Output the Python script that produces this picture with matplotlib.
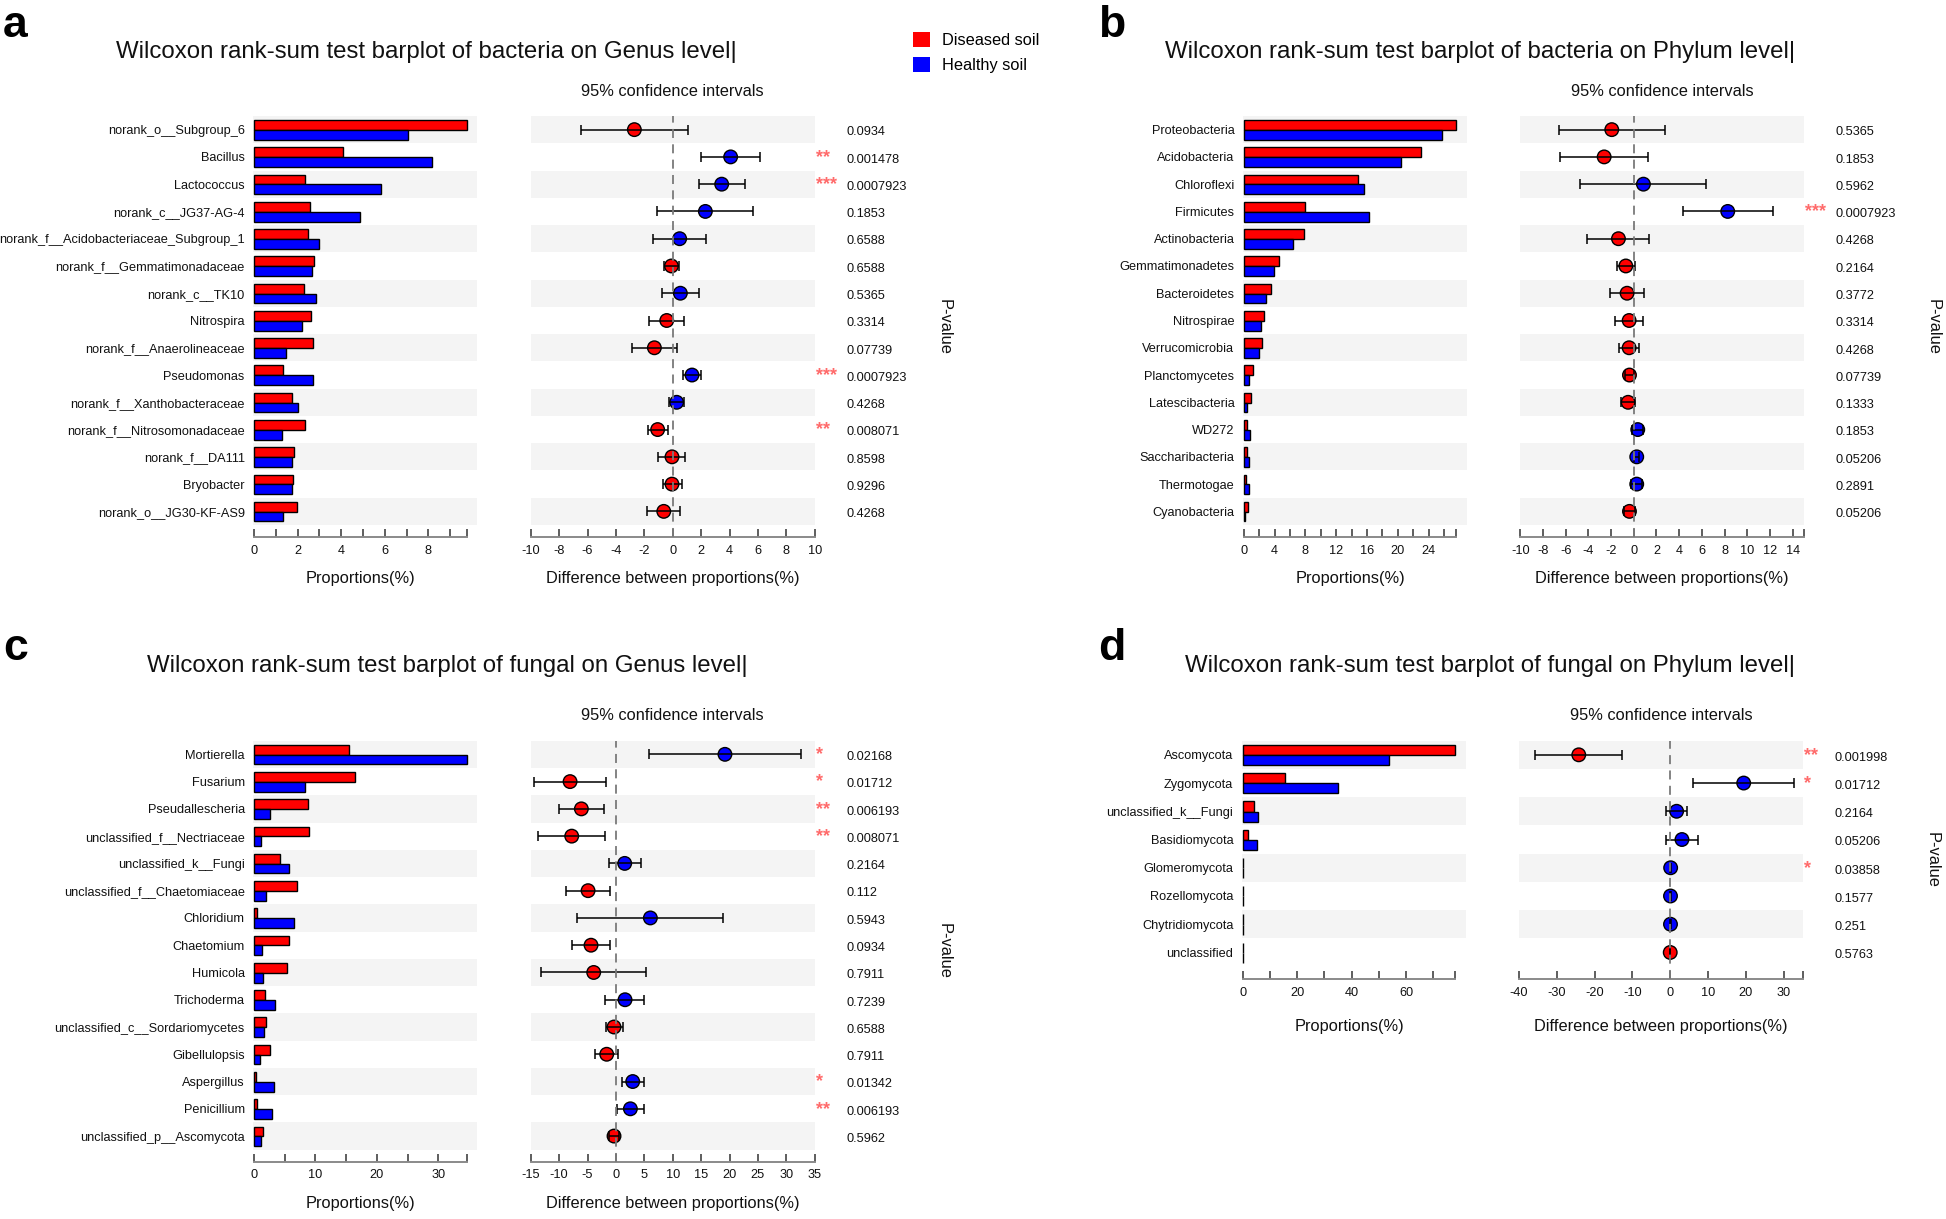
import matplotlib
matplotlib.use('Agg')
import matplotlib.pyplot as plt
import numpy as np
from matplotlib.patches import Patch

plt.rcParams['font.family'] = ['Liberation Sans', 'DejaVu Sans']
plt.rcParams['axes.unicode_minus'] = False

# ---------------- data ----------------
groups = ['Diseased soil', 'Healthy soil']
group_colors = ['#FF0000', '#0000FF']

# Panel a: bacteria, genus level
a_title = 'Wilcoxon rank-sum test barplot of bacteria on Genus level|'
a_taxa = ['norank_o__Subgroup_6', 'Bacillus', 'Lactococcus', 'norank_c__JG37-AG-4',
          'norank_f__Acidobacteriaceae_Subgroup_1', 'norank_f__Gemmatimonadaceae',
          'norank_c__TK10', 'Nitrospira', 'norank_f__Anaerolineaceae', 'Pseudomonas',
          'norank_f__Xanthobacteraceae', 'norank_f__Nitrosomonadaceae', 'norank_f__DA111',
          'Bryobacter', 'norank_o__JG30-KF-AS9']
a_diseased = [9.76, 4.10, 2.34, 2.57, 2.49, 2.75, 2.31, 2.60, 2.72, 1.35, 1.76, 2.34, 1.82, 1.77, 1.96]
a_healthy = [7.08, 8.18, 5.81, 4.86, 3.00, 2.65, 2.84, 2.20, 1.45, 2.69, 2.00, 1.28, 1.76, 1.74, 1.35]
a_diff = [-2.70, 4.08, 3.45, 2.30, 0.49, -0.09, 0.54, -0.42, -1.29, 1.36, 0.28, -1.06, -0.05, -0.05, -0.63]
a_low = [-6.46, 2.00, 1.88, -1.10, -1.38, -0.61, -0.77, -1.64, -2.84, 0.70, -0.23, -1.76, -1.06, -0.70, -1.81]
a_high = [1.06, 6.15, 5.07, 5.68, 2.37, 0.42, 1.85, 0.82, 0.28, 2.00, 0.77, -0.35, 0.89, 0.66, 0.54]
a_p = ['0.0934', '0.001478', '0.0007923', '0.1853', '0.6588', '0.6588', '0.5365', '0.3314',
       '0.07739', '0.0007923', '0.4268', '0.008071', '0.8598', '0.9296', '0.4268']

# Panel b: bacteria, phylum level
b_title = 'Wilcoxon rank-sum test barplot of bacteria on Phylum level|'
b_taxa = ['Proteobacteria', 'Acidobacteria', 'Chloroflexi', 'Firmicutes', 'Actinobacteria',
          'Gemmatimonadetes', 'Bacteroidetes', 'Nitrospirae', 'Verrucomicrobia', 'Planctomycetes',
          'Latescibacteria', 'WD272', 'Saccharibacteria', 'Thermotogae', 'Cyanobacteria']
b_diseased = [27.6, 22.96, 14.83, 7.96, 7.78, 4.58, 3.55, 2.59, 2.38, 1.17, 0.95, 0.39, 0.39, 0.35, 0.52]
b_healthy = [25.7, 20.37, 15.65, 16.26, 6.40, 3.94, 2.94, 2.20, 1.99, 0.74, 0.48, 0.78, 0.69, 0.65, 0.13]
b_diff = [-1.94, -2.61, 0.85, 8.28, -1.35, -0.70, -0.59, -0.41, -0.41, -0.38, -0.50, 0.35, 0.26, 0.26, -0.38]
b_low = [-6.61, -6.46, -4.70, 4.32, -4.08, -1.47, -2.12, -1.65, -1.26, -0.79, -1.12, -0.15, 0.05, -0.23, -0.85]
b_high = [2.73, 1.26, 6.40, 12.25, 1.35, 0.09, 0.91, 0.82, 0.44, 0.06, 0.12, 0.85, 0.48, 0.76, 0.09]
b_p = ['0.5365', '0.1853', '0.5962', '0.0007923', '0.4268', '0.2164', '0.3772', '0.3314',
       '0.4268', '0.07739', '0.1333', '0.1853', '0.05206', '0.2891', '0.05206']

# Panel c: fungi, genus level
c_title = 'Wilcoxon rank-sum test barplot of fungal on Genus level|'
c_taxa = ['Mortierella', 'Fusarium', 'Pseudallescheria', 'unclassified_f__Nectriaceae',
          'unclassified_k__Fungi', 'unclassified_f__Chaetomiaceae', 'Chloridium', 'Chaetomium',
          'Humicola', 'Trichoderma', 'unclassified_c__Sordariomycetes', 'Gibellulopsis',
          'Aspergillus', 'Penicillium', 'unclassified_p__Ascomycota']
c_diseased = [15.4, 16.4, 8.74, 9.00, 4.23, 6.95, 0.54, 5.64, 5.37, 1.84, 2.00, 2.66, 0.27, 0.49, 1.52]
c_healthy = [34.6, 8.30, 2.60, 1.19, 5.75, 1.95, 6.57, 1.30, 1.41, 3.42, 1.68, 0.98, 3.31, 2.98, 1.14]
c_diff = [19.2, -8.07, -6.08, -7.78, 1.55, -4.90, 6.07, -4.38, -3.91, 1.61, -0.33, -1.62, 2.96, 2.55, -0.33]
c_low = [5.77, -14.47, -10.07, -13.70, -1.27, -8.84, -6.79, -7.78, -13.12, -1.86, -1.80, -3.67, 1.08, 0.14, -1.27]
c_high = [32.66, -1.74, -2.15, -1.86, 4.37, -1.03, 18.80, -1.03, 5.25, 5.01, 1.20, 0.43, 4.89, 4.89, 0.61]
c_p = ['0.02168', '0.01712', '0.006193', '0.008071', '0.2164', '0.112', '0.5943', '0.0934',
       '0.7911', '0.7239', '0.6588', '0.7911', '0.01342', '0.006193', '0.5962']

# Panel d: fungi, phylum level
d_title = 'Wilcoxon rank-sum test barplot of fungal on Phylum level|'
d_taxa = ['Ascomycota', 'Zygomycota', 'unclassified_k__Fungi', 'Basidiomycota',
          'Glomeromycota', 'Rozellomycota', 'Chytridiomycota', 'unclassified']
d_diseased = [78.1, 15.5, 4.28, 1.96, 0.05, 0.01, 0.03, 0.04]
d_healthy = [53.8, 35.0, 5.75, 5.26, 0.14, 0.06, 0.08, 0.02]
d_diff = [-24.2, 19.4, 1.67, 3.08, 0.09, 0.05, 0.05, -0.02]
d_low = [-35.7, 6.0, -1.23, -1.14, 0.02, 0.01, 0.01, -0.06]
d_high = [-12.7, 32.8, 4.49, 7.39, 0.16, 0.09, 0.09, 0.02]
d_p = ['0.001998', '0.01712', '0.2164', '0.05206', '0.03858', '0.1577', '0.251', '0.5763']

# ---------------- layout / style ----------------
W, H = 1946, 1219
fig = plt.figure(figsize=(W / 100, H / 100), dpi=100)

BAND = '#F4F4F4'
SPINE = '#8A8A8A'
TXT = '#111111'
STAR = '#FF6B6B'
SMALL = 9.2
LABEL = 11.8


def add_ax(l, r, t, b):
    return fig.add_axes([l / W, 1 - b / H, (r - l) / W, (b - t) / H])


def stars(p):
    p = float(p)
    return '***' if p < 0.001 else '**' if p < 0.01 else '*' if p < 0.05 else ''


def base_style(ax, n, lo, hi):
    for s in ['top', 'right', 'left']:
        ax.spines[s].set_visible(False)
    ax.spines['bottom'].set_bounds(lo, hi)
    ax.spines['bottom'].set_color(SPINE)
    ax.spines['bottom'].set_linewidth(1.4)
    ax.tick_params(axis='x', which='both', direction='in', length=5.5, width=1.1,
                   color='#333333', labelsize=SMALL, pad=5.5, labelcolor=TXT)
    ax.tick_params(axis='y', length=0)
    ax.set_ylim(n - 0.5 + 0.44, -0.5)
    for i in range(0, n, 2):
        ax.axhspan(i - 0.5, i + 0.5, color=BAND, lw=0, zorder=0)


def draw_panel(letter, letter_xy, title, title_xy, taxa, dis, hea, diff, low, high, pv,
               top, bottom, bar_lr, diff_lr, bar_major, bar_minor, diff_lim, diff_step, diff_end,
               labelpad=10.5):
    n = len(taxa)
    y = np.arange(n)
    # --- bar plot of proportions
    axb = add_ax(bar_lr[0], bar_lr[1], top, bottom)
    M = max(max(dis), max(hea))
    base_style(axb, n, 0, M)
    x0, x1 = -0.0047 * M, 1.048 * M
    axb.set_xlim(x0, x1)
    axb.barh(y - 0.17, dis, height=0.36, color=group_colors[0], edgecolor='black', lw=1.0, zorder=2)
    axb.barh(y + 0.19, hea, height=0.36, color=group_colors[1], edgecolor='black', lw=1.0, zorder=2)
    axb.set_yticks(y)
    axb.set_yticklabels(taxa, fontsize=SMALL, color=TXT)
    axb.tick_params(axis='y', pad=6)
    axb.set_xticks(np.arange(0, M, bar_major))
    axb.set_xticks(list(np.arange(0, M, bar_minor)) + [M], minor=True)
    axb.set_xlabel('Proportions(%)', fontsize=LABEL, color=TXT, labelpad=labelpad)
    axb.xaxis.label.set_x((M / 2 - x0) / (x1 - x0))

    # --- difference plot with CI
    axd = add_ax(diff_lr[0], diff_lr[1], top, bottom)
    base_style(axd, n, diff_lim[0], diff_lim[1])
    axd.set_xlim(*diff_lim)
    axd.set_yticks([])
    axd.set_xticks(np.arange(diff_lim[0], diff_end + 0.01, diff_step))
    axd.set_xticks([diff_lim[1]], minor=True)
    axd.set_xlabel('Difference between proportions(%)', fontsize=LABEL, color=TXT, labelpad=labelpad)
    diff_a = np.array(diff)
    cols = [group_colors[0] if d < 0 else group_colors[1] for d in diff]
    axd.scatter(diff_a, y, s=95, c=cols, edgecolors='black', linewidths=1.0, zorder=3)
    axd.errorbar(diff_a, y, xerr=[diff_a - np.array(low), np.array(high) - diff_a], fmt='none',
                 ecolor='black', elinewidth=1.1, capsize=3.4, capthick=1.1, zorder=4)
    axd.axvline(0, color='#7A7A7A', ls=(0, (5, 3.5)), lw=1.3, zorder=5)
    axd.annotate('95% confidence intervals', xy=(0.5, 1), xycoords='axes fraction',
                 xytext=(0, 18), textcoords='offset points', ha='center', va='center',
                 fontsize=LABEL, color=TXT)
    for i, p in enumerate(pv):
        axd.annotate(p, xy=(1, i), xycoords=('axes fraction', 'data'), xytext=(23, -2),
                     textcoords='offset points', ha='left', va='center', fontsize=SMALL, color=TXT)
        s = stars(p)
        if s:
            axd.annotate(s, xy=(1, i), xycoords=('axes fraction', 'data'), xytext=(1, -3.5),
                         textcoords='offset points', ha='left', va='baseline', fontsize=13,
                         color=STAR, fontweight='bold')
    axd.annotate('P-value', xy=(1, 0.5), xycoords='axes fraction', xytext=(93, 0),
                 textcoords='offset points', rotation=-90, ha='center', va='center',
                 fontsize=LABEL, color=TXT)

    fig.text(letter_xy[0] / W, 1 - letter_xy[1] / H, letter, fontsize=32, fontweight='bold',
             ha='left', va='baseline', color='black')
    fig.text(title_xy[0] / W, 1 - title_xy[1] / H, title, fontsize=17.3, ha='center', va='center',
             color=TXT)


draw_panel('a', (3, 37), a_title, (426, 52), a_taxa, a_diseased, a_healthy, a_diff, a_low, a_high, a_p,
           116, 537, (253, 477), (530.7, 814.7), 2, 1, (-10, 10), 2, 10)
draw_panel('b', (1098, 37), b_title, (1480, 52), b_taxa, b_diseased, b_healthy, b_diff, b_low, b_high, b_p,
           116, 537, (1242.7, 1466.7), (1520.3, 1804), 4, 2, (-10, 15), 2, 14)
draw_panel('c', (3, 660), c_title, (447, 666), c_taxa, c_diseased, c_healthy, c_diff, c_low, c_high, c_p,
           740.7, 1161.7, (253, 477), (530.7, 814.7), 10, 5, (-15, 35), 5, 35)
draw_panel('d', (1098, 660), d_title, (1490, 666), d_taxa, d_diseased, d_healthy, d_diff, d_low, d_high, d_p,
           740.7, 979, (1241.7, 1465.7), (1519, 1802.7), 20, 10, (-40, 35), 10, 30, labelpad=15)

handles = [Patch(facecolor=c, edgecolor='none') for c in group_colors]
fig.legend(handles, groups, loc='upper left', bbox_to_anchor=(913 / W, 1 - 32 / H), frameon=False,
           fontsize=LABEL, handlelength=1.05, handleheight=1.05, handletextpad=0.7,
           labelspacing=0.55, borderpad=0, borderaxespad=0)

fig.savefig('out.png', dpi=100, facecolor='white')
